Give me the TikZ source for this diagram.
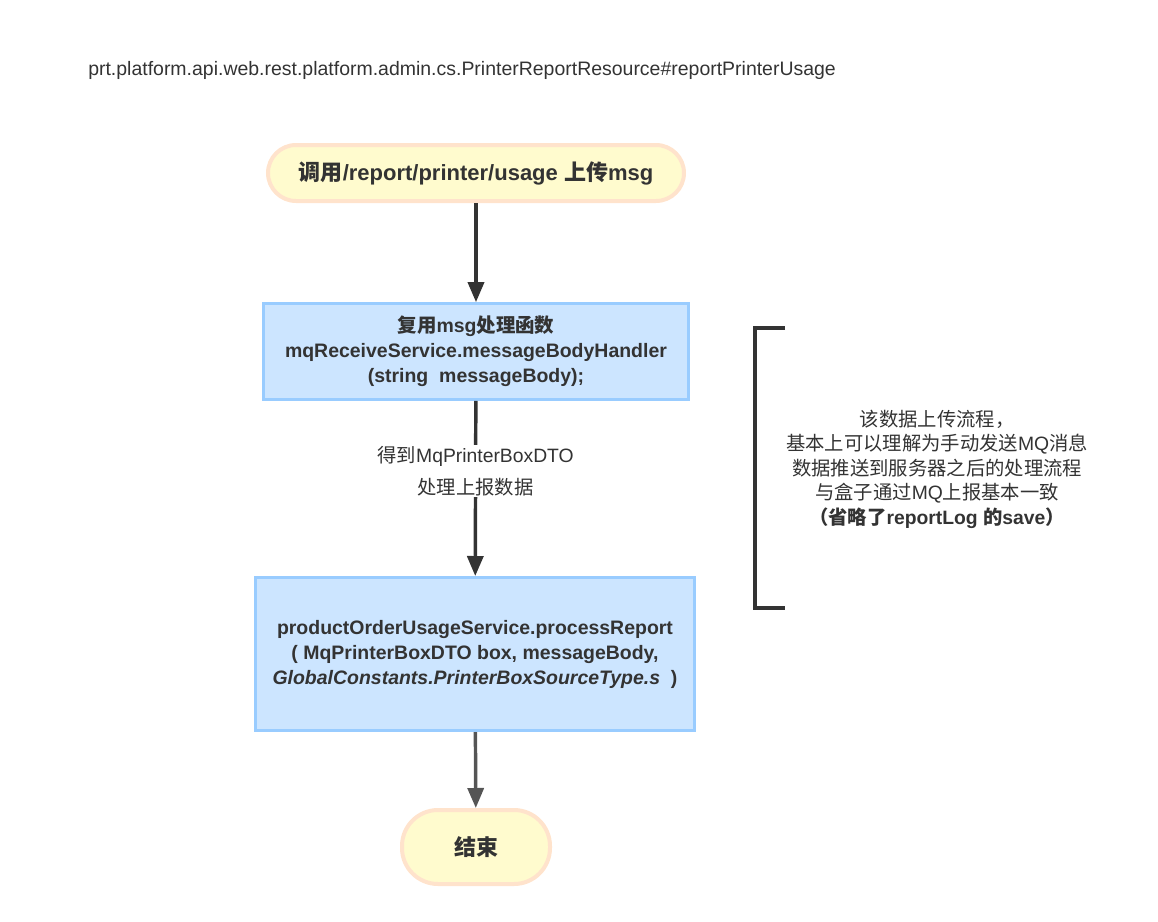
\documentclass[tikz,border=0pt]{standalone}
\usepackage{fontspec}
\setmainfont{Liberation Sans}
\newfontfamily\cjk{Noto Sans CJK SC}
\usetikzlibrary{arrows.meta, positioning}
\newcommand{\zh}[1]{{\cjk #1}}
\definecolor{pillfill}{HTML}{FFFBCE}
\definecolor{pillline}{HTML}{FFE3CC}
\definecolor{boxfill}{HTML}{CCE5FF}
\definecolor{boxline}{HTML}{99CCFF}
\definecolor{arrowdark}{HTML}{333333}
\definecolor{arrowgray}{HTML}{555555}
\definecolor{inkdark}{HTML}{333333}

\begin{document}
\begin{tikzpicture}[
	x=0.75pt, y=-0.75pt,
	>={Triangle[length=15pt, width=12pt]},
	every node/.style={text=inkdark},
	% --- Style Definitions ---
	terminal/.style={rectangle, rounded corners=21pt, draw=pillline, line width=3pt, fill=pillfill, font=\bfseries\fontsize{16.5}{20}\selectfont, align=center},
	process/.style={rectangle, draw=boxline, line width=2pt, fill=boxfill, font=\bfseries\fontsize{14.6}{18.75}\selectfont, align=center},
	flow/.style={->, line width=2.6pt, arrowdark},
	annotation/.style={font=\fontsize{14.5}{24}\selectfont, align=center, fill=white, inner sep=1pt},
	note/.style={font=\fontsize{14.5}{18.4}\selectfont, align=center},
	bracket/.style={line width=2.4pt, draw=arrowdark},
	]
	
	% --- Canvas ---
	\useasboundingbox (0,0) rectangle (1158,922);
	
	% --- Title ---
	\node[anchor=west, inner sep=0pt, font=\fontsize{14.6}{18}\selectfont] (title) at (88,70)
		{prt.platform.api.web.rest.platform.admin.cs.PrinterReportResource\#reportPrinterUsage};
	
	% --- Flow Nodes ---
	\node[terminal, minimum width=312pt, minimum height=42pt] (start) at (476,173)
		{\zh{调用}/report/printer/usage \zh{上传}msg};
	\node[process, minimum width=319pt, minimum height=72pt] (handler) at (476,351.5)
		{\zh{复用}msg\zh{处理函数}\\
		 mqReceiveService.messageBodyHandler\\
		 (string\ \ messageBody);};
	\node[process, minimum width=329pt, minimum height=115pt] (report) at (475,654)
		{productOrderUsageService.processReport\\
		 ( MqPrinterBoxDTO box, messageBody,\\
		 \textit{GlobalConstants.PrinterBoxSourceType.s}\ \ )};
	\node[terminal, rounded corners=27pt, minimum width=111pt, minimum height=55.5pt] (finish) at (476,847)
		{\zh{结束}};
	
	% --- Connectors ---
	\draw[flow] (start) -- (handler);
	\draw[flow] (handler) -- node[annotation, pos=0.4] (dto) {\zh{得到}MqPrinterBoxDTO\\ \zh{处理上报数据}} (report);
	\draw[flow, arrowgray] (report) -- (finish);
	
	% --- Side Note ---
	\draw[bracket] (785,328) -- (755,328) -- (755,608) -- (785,608);
	\node[note] (remark) at (937,469)
		{\zh{该数据上传流程，}\\
		 \zh{基本上可以理解为手动发送}MQ\zh{消息}\\
		 \zh{数据推送到服务器之后的处理流程}\\
		 \zh{与盒子通过}MQ\zh{上报基本一致}\\
		 \textbf{\zh{（省略了}reportLog \zh{的}save\zh{）}}};
	
\end{tikzpicture}
\end{document}
